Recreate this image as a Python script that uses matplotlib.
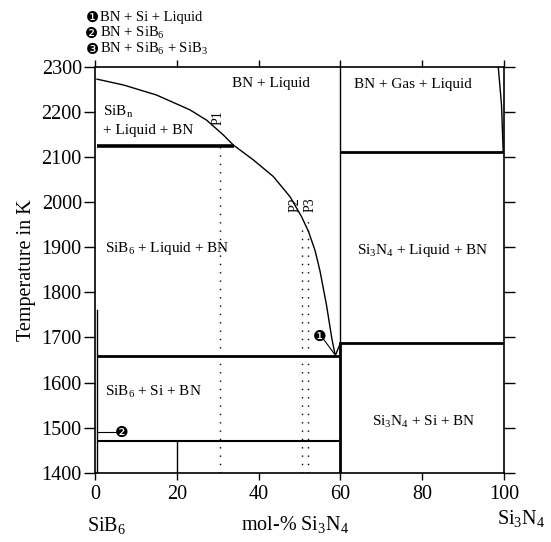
import matplotlib
matplotlib.use("Agg")
import matplotlib.pyplot as plt

# liquidus curve (mol-% Si3N4, K)
liq_x = [0.5, 7.0, 15.0, 23.2, 27.3, 31.4, 33.8, 38.7, 43.6, 47.7, 50.5, 52.2, 53.8, 55.0, 56.6, 57.9, 58.7]
liq_T = [2273, 2260, 2238, 2205, 2182, 2149, 2127, 2094, 2057, 2012, 1968, 1935, 1893, 1848, 1772, 1698, 1662]

# steep boundary near pure Si3N4
right_x = [98.6, 99.4, 99.8]
right_T = [2300, 2215, 2112]

# horizontal invariant lines: (T, x_start, x_end, width)
h_T = [2125, 1659, 1470, 2112, 1687]
h_x0 = [0.5, 0.5, 0.5, 60.0, 60.0]
h_x1 = [33.9, 60.0, 60.0, 99.8, 100.0]
h_lw = [2.6, 2.0, 1.5, 2.0, 2.0]

# sample compositions (dotted)
p_names = ["P1", "P2", "P3"]
p_x = [30.6, 50.6, 52.0]
p_top = [2125, 1950, 1965]
p_lab_x = [30.2, 48.9, 52.6]
p_lab_T = [2188, 1994, 1994]

legend_items = [
    ("\u2776", "BN + Si + Liquid"),
    ("\u2777", "BN + SiB$_6$"),
    ("\u2778", "BN + SiB$_6$ + SiB$_3$"),
]

region_labels = [
    (43.0, 2263, "BN + Liquid", "center"),
    (77.8, 2262, "BN + Gas + Liquid", "center"),
    (1.9, 2201, "SiB$_\\mathrm{n}$", "left"),
    (1.9, 2160, "+ Liquid + BN", "left"),
    (2.4, 1898, "SiB$_6$ + Liquid + BN", "left"),
    (64.0, 1894, "Si$_3$N$_4$ + Liquid + BN", "left"),
    (2.4, 1579, "SiB$_6$ + Si + BN", "left"),
    (67.7, 1512, "Si$_3$N$_4$ + Si + BN", "left"),
]

plt.rcParams["font.family"] = ["Liberation Serif", "DejaVu Sans"]
plt.rcParams["mathtext.fontset"] = "custom"
plt.rcParams["mathtext.rm"] = "Liberation Serif"
plt.rcParams["mathtext.it"] = "Liberation Serif:italic"

fig = plt.figure(figsize=(5.51, 5.42), dpi=100)
ax = fig.add_axes([0.1724, 0.1279, 0.7423, 0.7485])
ax.set_xlim(0, 100)
ax.set_ylim(1400, 2300)

ax.plot(liq_x, liq_T, color="black", lw=1.0)
ax.plot(right_x, right_T, color="black", lw=1.0)
for T, x0, x1, lw in zip(h_T, h_x0, h_x1, h_lw):
    ax.plot([x0, x1], [T, T], color="black", lw=lw, solid_capstyle="butt")

# vertical lines
ax.plot([60, 60], [1400, h_T[4]], color="black", lw=2.0)
ax.plot([60, 60], [h_T[4], 2300], color="black", lw=1.0)
ax.plot([20, 20], [1400, h_T[2]], color="black", lw=1.0)
ax.plot([0.5, 0.5], [1400, 1760], color="black", lw=1.0)
ax.plot([liq_x[-1], 60], [h_T[1], h_T[4]], color="black", lw=1.0)

for name, x, top, lx, lT in zip(p_names, p_x, p_top, p_lab_x, p_lab_T):
    ax.plot([x, x], [1400, top], color="black", lw=1.0, ls=(0, (1, 5)))
    ax.text(lx, lT, name, rotation=90, ha="center", va="center", fontsize=10)

for x, T, s, ha in region_labels:
    ax.text(x, T, s, ha=ha, va="center", fontsize=11)

# numbered markers inside the diagram
ax.plot([55.8, 58.5], [1697, 1664], color="black", lw=0.8)
ax.text(55.0, 1703, "\u2776", family="DejaVu Sans", fontsize=11, ha="center", va="center")
ax.plot([0.5, 5.8], [1490, 1490], color="black", lw=0.8)
ax.text(6.5, 1490, "\u2777", family="DejaVu Sans", fontsize=11, ha="center", va="center")

# legend above the axes
for i, (sym, txt) in enumerate(legend_items):
    y = 1 - (17 + 16.2 * i) / 542
    fig.text(92 / 551, y, sym, family="DejaVu Sans", fontsize=10.5, ha="center", va="center")
    fig.text(100 / 551, y, txt, fontsize=10.5, ha="left", va="center")

ax.set_xticks([0, 20, 40, 60, 80, 100])
ax.set_yticks(range(1400, 2301, 100))
ax.tick_params(axis="both", direction="out", labelsize=14.5, width=1.0)
ax.tick_params(axis="y", length=8, pad=1.5, right=True)
ax.tick_params(axis="x", length=5, pad=4, top=True)
for sp in ax.spines.values():
    sp.set_linewidth(1.2)

ax.set_ylabel("Temperature in K", fontsize=14.5, labelpad=4)

xt = ax.get_xaxis_transform()
ax.text(-2.0, -0.13, "SiB$_6$", transform=xt, fontsize=14.5, ha="left", va="center")
ax.text(49.0, -0.128, "mol-% Si$_3$N$_4$", transform=xt, fontsize=14.5, ha="center", va="center")
ax.text(98.3, -0.112, "Si$_3$N$_4$", transform=xt, fontsize=14.5, ha="left", va="center")

fig.savefig("out.png", dpi=100)
